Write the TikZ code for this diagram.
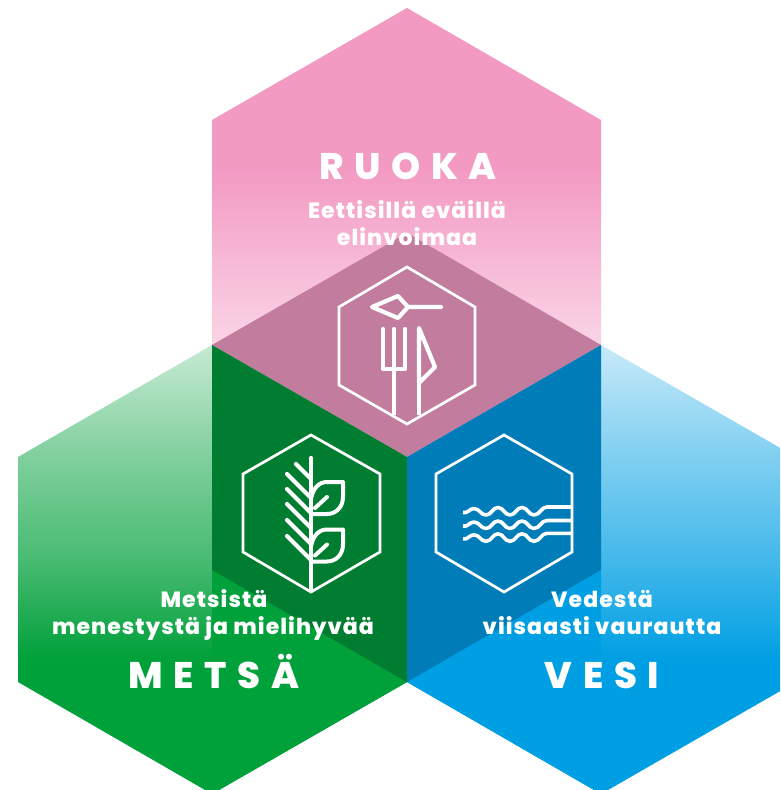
\documentclass[tikz,border=0pt]{standalone}
\usepackage{fontspec}
\setmainfont{Poppins}
\newfontfamily\titlefont[LetterSpace=29]{Poppins ExtraBold}
\newfontfamily\subfont[LetterSpace=4.8]{Poppins ExtraBold}

\definecolor{ruokapink}{HTML}{F39AC3}
\definecolor{ruokadark}{HTML}{C27C9E}
\definecolor{metsagreen}{HTML}{00A03A}
\definecolor{metsadark}{HTML}{007D30}
\definecolor{vesiblue}{HTML}{009FE3}
\definecolor{vesidark}{HTML}{007DB8}

\pgfdeclareverticalshading{ruokafade}{100bp}{color(0bp)=(ruokapink!42!white); color(37.5bp)=(ruokapink!42!white); color(57bp)=(ruokapink); color(100bp)=(ruokapink)}
\pgfdeclareverticalshading{metsafade}{100bp}{color(0bp)=(metsagreen); color(40bp)=(metsagreen); color(51bp)=(metsagreen!72!white); color(62.5bp)=(metsagreen!50!white); color(75bp)=(metsagreen!22!white); color(100bp)=(metsagreen!22!white)}
\pgfdeclareverticalshading{vesifade}{100bp}{color(0bp)=(vesiblue); color(40bp)=(vesiblue); color(51bp)=(vesiblue!74!white); color(62.5bp)=(vesiblue!50!white); color(75bp)=(vesiblue!22!white); color(100bp)=(vesiblue!22!white)}

\tikzset{
	titletext/.style={anchor=base, text=white, font=\fontsize{37}{37}\titlefont},
	subtext/.style={anchor=base, text=white, font=\fontsize{22}{22}\subfont},
	hexicon/.style={draw=white, line width=2.7pt, line join=miter},
	iconline/.style={draw=white, line width=4.2pt, line join=round, line cap=round},
	iconthin/.style={draw=white, line width=4pt, line join=round, line cap=round}
}

\begin{document}
\begin{tikzpicture}[x=1pt,y=-1pt]
		\clip [use as bounding box] (0,0) rectangle (780,790);
		% big hexagons
		\shade [shading=ruokafade] (407,8) -- (601,120) -- (601,345) -- (407,457) -- (212,345) -- (212,120) -- cycle;
		\shade [shading=metsafade] (212,345) -- (407,457) -- (407,682) -- (212,794) -- (18,682) -- (18,457) -- cycle;
		\shade [shading=vesifade] (601,345) -- (796,457) -- (796,682) -- (601,794) -- (407,682) -- (407,457) -- cycle;
		\fill [metsagreen] (212,570) -- (407,682) -- (212,794) -- cycle;
		\fill [vesiblue] (601,570) -- (407,682) -- (601,794) -- cycle;
		% overlaps
		\fill [ruokadark] (212,345) -- (407,233) -- (601,345) -- (407,457) -- cycle;
		\fill [metsadark] (212,345) -- (407,457) -- (407,682) -- (212,570) -- cycle;
		\fill [vesidark] (601,345) -- (407,457) -- (407,682) -- (601,570) -- cycle;

		\node (ruokatitle) [titletext] at (408,179) {RUOKA};
		\node (ruokasub1) [subtext] at (407,218) {Eettisillä eväillä};
		\node (ruokasub2) [subtext] at (407,245) {elinvoimaa};
		\node (metsasub1) [subtext] at (214,607) {Metsistä};
		\node (metsasub2) [subtext] at (213,634) {menestystä ja mielihyvää};
		\node (metsatitle) [titletext] at (214,688) {METSÄ};
		\node (vesisub1) [subtext] at (602,607) {Vedestä};
		\node (vesisub2) [subtext] at (602,634) {viisaasti vaurautta};
		\node (vesititle) [titletext] at (602,688) {VESI};

		% food icon
		\draw [hexicon] (407,267) -- (475,307) -- (475,385) -- (407,424) -- (339,385) -- (339,307) -- cycle;
		\draw [iconline] (372,307) -- (398,296) -- (408,307) -- (398,318) -- cycle (408,307) -- (441,307);
		\draw [iconline] (383,329) -- (383,369) -- (405,369) -- (405,329) (394,329) -- (394,369);
		\draw [hexicon, line cap=butt, line width=4.2pt] (394,369) -- (394,415) (419,383) -- (419,415);
		\draw [iconline] (419,383) -- (419,328) -- (435,367) -- cycle;

		% forest icon
		\draw [hexicon] (311,435) -- (380,474) -- (380,552) -- (311,592) -- (243,552) -- (243,474) -- cycle;
		\draw [iconline, line cap=butt] (311,592) -- (311,458);
		\fill [white] (311,458) circle (2.1);
		\draw [iconline] (296,464) -- (310,478);
		\foreach \y in {474,489,504,520,536}
		\draw [iconline] (287,\y) -- (311,\y+24);
		\foreach \s in {0,47.5}
		\draw [iconthin, yshift=-\s pt] (311,499) .. controls (313,488) and (319,482) .. (327,482) -- (343,482) -- (343,497) .. controls (343,507) and (336,514) .. (327,514) -- (311,514) (315,508) -- (327,497);

		% water icon
		\draw [hexicon] (504,435) -- (572,474) -- (572,552) -- (504,592) -- (436,552) -- (436,474) -- cycle;
		\foreach \w in {0,13.5,26.3}
		\draw [iconthin, line width=3.6pt, line cap=butt, yshift=-\w pt] (463,512.5) to[out=-20,in=180] (474,508.5) to[out=0,in=180] (486,515) to[out=0,in=180] (498,507.5) to[out=0,in=180] (510,515) to[out=0,in=180] (522,507.5) to[out=0,in=180] (534,515) to[out=0,in=180] (547,507) -- (571,507);
\end{tikzpicture}
\end{document}
